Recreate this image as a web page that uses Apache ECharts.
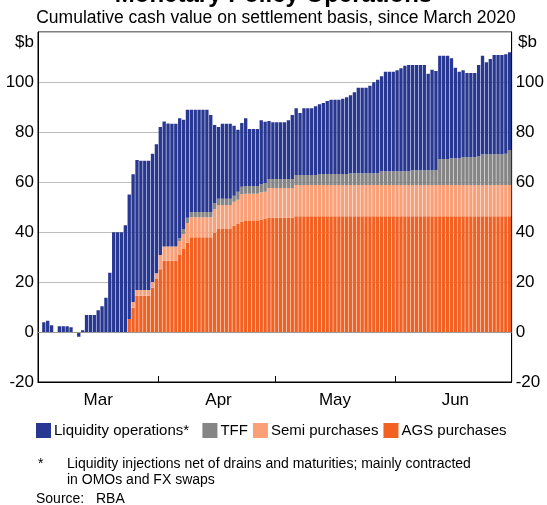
<!DOCTYPE html>
<html><head><meta charset="utf-8">
<script src="https://cdn.jsdelivr.net/npm/echarts@6/dist/echarts.min.js"></script>
<style>html,body{margin:0;padding:0;background:#fff}#c{width:547px;height:505px}</style>
</head><body><div id="c"></div>
<script>
// Months shown on the x axis (daily bars, 1 Mar – 30 Jun 2020)
const monthNames = ['Mar', 'Apr', 'May', 'Jun'];
const monthDays = [31, 30, 31, 30];
const yTicks = [-20, 0, 20, 40, 60, 80, 100, 120];

// AGS purchases ($b, cumulative) per day
const agsPurchases = [
  null,null,null,null,null,null,null,null,null,null,null,null,null,null,null,null,null,null,null,null,null,null,null,
  5.2, 9.7, 14.5, 14.5, 14.5, 14.5, 17.7, 21.2, 25.1, 28.5, 28.5, 28.5, 28.5, 30.8, 33.2, 35.7,
  37.9, 37.9, 37.9, 37.9, 37.9, 37.9, 39.6, 41.2, 41.2, 41.2, 41.2, 42.5, 43.4, 44.1, 44.4, 44.4, 44.4, 44.4,
  45.0, 45.4, 45.8, 45.8, 45.8, 45.8, 45.8, 45.8, 45.8,
  46.3, 46.3, 46.3, 46.3, 46.3, 46.3, 46.3, 46.3, 46.3, 46.3, 46.3, 46.3, 46.3, 46.3,
  46.3, 46.3, 46.3, 46.3, 46.3, 46.3, 46.3, 46.3, 46.3, 46.3, 46.3, 46.3, 46.3, 46.3,
  46.3, 46.3, 46.3, 46.3, 46.3, 46.3, 46.3, 46.3, 46.3, 46.3, 46.3, 46.3, 46.3, 46.3,
  46.3, 46.3, 46.3, 46.3, 46.3, 46.3, 46.3, 46.3, 46.3, 46.3, 46.3, 46.3, 46.3, 46.3
];
// Semi-government purchases ($b)
const semiPurchases = [
  null,null,null,null,null,null,null,null,null,null,null,null,null,null,null,null,null,null,null,null,null,null,null,null,
  2.3, 2.3, 2.3, 2.3, 2.3, 2.3, 2.3, 5.7, 5.7, 5.7, 5.7, 5.7, 5.6, 5.9, 7.9,
  8.0, 8.0, 8.0, 8.0, 8.0, 8.0, 9.6, 9.6, 9.6, 9.6, 9.6, 9.6, 9.5, 11.0, 10.9, 10.9, 10.9, 10.9,
  10.9, 10.7, 11.8, 11.8, 11.8, 11.8, 11.8, 11.8, 11.8,
  12.5, 12.5, 12.5, 12.5, 12.5, 12.5, 12.5, 12.5, 12.5, 12.5, 12.5, 12.5, 12.5, 12.5,
  12.5, 12.5, 12.5, 12.5, 12.5, 12.5, 12.5, 12.5, 12.5, 12.5, 12.5, 12.5, 12.5, 12.5,
  12.5, 12.5, 12.5, 12.5, 12.5, 12.5, 12.5, 12.5, 12.5, 12.5, 12.5, 12.5, 12.5, 12.5,
  12.5, 12.5, 12.5, 12.5, 12.5, 12.5, 12.5, 12.5, 12.5, 12.5, 12.5, 12.5, 12.5, 12.5
];
// Term Funding Facility ($b)
const tff = [
  null,null,null,null,null,null,null,null,null,null,null,null,null,null,null,null,null,null,
  null,null,null,null,null,null,null,null,null,null,null,null,null,null,null,null,null,null,
  1.1, 2.1, 2.1, 2.1, 2.1, 2.1, 2.1, 2.1, 2.1, 2.4, 2.5, 2.5, 2.5, 2.5, 2.4, 3.2, 3.0,
  3.1, 3.1, 3.1, 3.1, 3.3, 3.5, 3.6, 3.6, 3.6, 3.6, 3.6, 3.6, 3.6,
  4.0, 4.0, 4.0, 4.0, 4.0, 4.0,
  4.4, 4.4, 4.4, 4.4, 4.4, 4.4, 4.4, 4.4,
  4.7, 4.7, 4.7, 4.7, 4.7, 4.7, 4.7, 4.7,
  5.5, 5.5, 5.5, 5.5, 5.5, 5.5, 5.5, 5.5,
  5.9, 5.9, 5.9, 5.9, 5.9, 5.9, 5.9,
  10.4, 10.4, 10.4, 10.7, 10.7, 10.7, 11.1, 11.1, 11.1, 11.1, 11.6,
  12.3, 12.3, 12.3, 12.3, 12.3, 12.3, 12.5, 14.0
];
// Liquidity operations, net ($b)
const liquidityOps = [
  null, 3.9, 4.5, 2.7, 0, 2.3, 2.3, 2.3, 1.9, -0.3, -1.9, 0.7, 6.8, 6.8, 6.8, 8.7, 10.3, 13.7, 23.7,
  39.9, 39.9, 39.9, 42.7,
  49.8, 51.1, 52.0, 51.7, 51.7, 51.7, 51.3, 51.6, 51.2, 50.0, 49.2, 49.1, 49.1, 48.0, 43.7, 43.2,
  40.9, 40.9, 40.9, 40.9, 40.9, 38.8, 31.2, 28.7, 30.0, 30.0, 30.0, 28.0, 24.8, 25.5, 27.1,
  22.8, 22.8, 22.8, 25.5, 24.5, 23.2, 22.7, 22.7, 22.7, 22.7, 23.5, 25.6,
  26.7, 24.8, 26.7, 26.7, 26.7, 27.5, 27.9, 28.4, 29.2, 29.7, 29.7, 29.7, 30.1, 30.7,
  31.2, 32.4, 34.2, 34.2, 34.2, 35.0, 36.4, 37.4, 38.0, 39.8, 39.8, 39.8, 40.4, 41.2, 42.2, 42.5,
  42.1, 42.1, 42.1, 42.1, 38.6, 40.2, 39.7, 41.3, 41.3, 41.3, 40.0, 36.2, 34.6, 34.8,
  33.7, 33.7, 33.7, 36.4, 39.4, 36.8, 38.1, 39.7, 39.7, 39.7, 39.8, 39.1
];

const days = [];
const monthStart = {};
const monthMid = {};
monthDays.forEach((n, m) => {
  monthStart[days.length] = true;
  monthMid[days.length + 15] = monthNames[m];
  for (let d = 1; d <= n; d++) days.push('2020-' + String(m + 3).padStart(2, '0') + '-' + String(d).padStart(2, '0'));
});

const FONT = 'Liberation Sans, Arial, sans-serif';
const chart = echarts.init(document.getElementById('c'), null, {renderer: 'canvas'});
const barCommon = {type: 'bar', stack: 'total', barCategoryGap: '14%', animation: false};
const yAxisCommon = {
  type: 'value', min: yTicks[0], max: yTicks[yTicks.length - 1], interval: 20,
  axisLine: {show: true, onZero: false, lineStyle: {color: '#000', width: 1}},
  axisTick: {show: false},
  axisLabel: {fontSize: 17, color: '#000', fontFamily: FONT, margin: 4,
    formatter: v => (v === yTicks[yTicks.length - 1] ? '' : String(v))}
};
chart.setOption({
  animation: false,
  backgroundColor: '#fff',
  grid: {left: 38, right: 33, top: 32, bottom: 123, show: true, borderColor: '#000', borderWidth: 1},
  legend: {
    data: ['Liquidity operations*', 'TFF', 'Semi purchases', 'AGS purchases'],
    left: 31, top: 418, itemWidth: 15, itemHeight: 15, itemGap: 5, icon: 'rect',
    formatter: n => (n === 'Liquidity operations*' ? n + '  ' : n),
    textStyle: {fontSize: 15, color: '#000', fontFamily: FONT, padding: [0, 0, 0, -2]}
  },
  xAxis: {
    type: 'category', data: days,
    axisLine: {show: true, onZero: false, lineStyle: {color: '#000'}},
    axisTick: {show: true, inside: true, length: 6, lineStyle: {color: '#000'},
      interval: (i) => i > 0 && !!monthStart[i]},
    axisLabel: {interval: (i) => !!monthMid[i], formatter: (v, i) => monthMid[i] || '',
      fontSize: 17, color: '#000', fontFamily: FONT, margin: 10}
  },
  yAxis: [
    Object.assign({}, yAxisCommon, {position: 'left', splitLine: {show: true, lineStyle: {color: '#bdbdbd'}}}),
    Object.assign({}, yAxisCommon, {position: 'right', splitLine: {show: false}})
  ],
  series: [
    Object.assign({}, barCommon, {name: 'AGS purchases', data: agsPurchases, itemStyle: {color: '#F26122'},
      markLine: {silent: true, symbol: 'none', label: {show: false}, lineStyle: {color: '#999', width: 1, type: 'solid'}, data: [{yAxis: 0}]}}),
    Object.assign({}, barCommon, {name: 'Semi purchases', data: semiPurchases, itemStyle: {color: '#F9A079'}}),
    Object.assign({}, barCommon, {name: 'TFF', data: tff, itemStyle: {color: '#858585'}}),
    Object.assign({}, barCommon, {name: 'Liquidity operations*', data: liquidityOps, itemStyle: {color: '#283791'}})
  ],
  graphic: [
    {type: 'text', left: 'center', top: -17, style: {text: 'Monetary Policy Operations', font: 'bold 24px ' + FONT, fill: '#000'}},
    {type: 'text', x: 276, y: 18, style: {text: 'Cumulative cash value on settlement basis, since March 2020', font: '17.5px ' + FONT, fill: '#000', align: 'center', verticalAlign: 'middle'}},
    {type: 'text', x: 34, y: 42, style: {text: '$b', font: '17px ' + FONT, fill: '#000', align: 'right', verticalAlign: 'middle'}},
    {type: 'text', x: 518, y: 42, style: {text: '$b', font: '17px ' + FONT, fill: '#000', align: 'left', verticalAlign: 'middle'}},
    {type: 'text', x: 38, y: 464, style: {text: '*', font: '14px ' + FONT, fill: '#000', align: 'left', verticalAlign: 'middle'}},
    {type: 'text', x: 67, y: 464, style: {text: 'Liquidity injections net of drains and maturities; mainly contracted', font: '14px ' + FONT, fill: '#000', align: 'left', verticalAlign: 'middle'}},
    {type: 'text', x: 67, y: 480, style: {text: 'in OMOs and FX swaps', font: '14px ' + FONT, fill: '#000', align: 'left', verticalAlign: 'middle'}},
    {type: 'text', x: 36, y: 499, style: {text: 'Source:', font: '14px ' + FONT, fill: '#000', align: 'left', verticalAlign: 'middle'}},
    {type: 'text', x: 96, y: 499, style: {text: 'RBA', font: '14px ' + FONT, fill: '#000', align: 'left', verticalAlign: 'middle'}}
  ]
});
</script>
</body></html>
